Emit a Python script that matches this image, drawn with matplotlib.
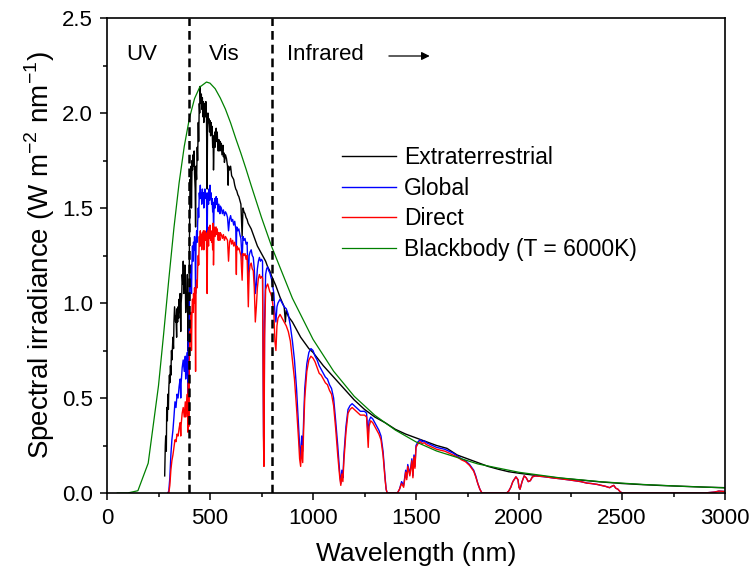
import matplotlib
matplotlib.use("Agg")
import matplotlib.pyplot as plt
from matplotlib.ticker import MultipleLocator
import numpy as np

plt.rcParams['font.family'] = ['Liberation Sans', 'DejaVu Sans']
plt.rcParams['mathtext.fontset'] = 'custom'
plt.rcParams['mathtext.rm'] = 'Liberation Sans'

# ---------------- data ----------------
blackbody_wl = [50, 100, 150, 200, 250, 275, 300, 325, 350, 375, 400, 425, 450, 483, 500, 525,
                550, 575, 600, 625, 650, 675, 700, 750, 800, 900, 1000, 1100, 1200, 1300, 1400,
                1500, 1600, 1800, 2000, 2200, 2400, 2600, 2800, 3000]
blackbody_val = [0.0, 0.0, 0.012, 0.157, 0.565, 0.838, 1.124, 1.396, 1.632, 1.824, 1.972, 2.076,
                 2.136, 2.163, 2.157, 2.128, 2.079, 2.02, 1.948, 1.866, 1.788, 1.705, 1.618, 1.450,
                 1.295, 1.025, 0.809, 0.641, 0.509, 0.409, 0.331, 0.269, 0.221, 0.153, 0.109,
                 0.0795, 0.059, 0.045, 0.035, 0.027]

extraterrestrial = [
    (280, 0.09), (283, 0.25), (285, 0.30), (288, 0.22), (290, 0.45), (293, 0.38), (295, 0.52),
    (298, 0.44), (300, 0.55), (303, 0.62), (305, 0.58), (308, 0.67), (310, 0.62), (313, 0.75),
    (315, 0.70), (318, 0.78), (320, 0.82), (323, 0.76), (325, 0.90), (328, 0.98), (330, 0.95),
    (333, 0.90), (335, 0.93), (338, 0.82), (340, 0.97), (343, 0.90), (345, 0.98), (348, 0.92),
    (350, 1.02), (353, 0.95), (355, 1.05), (358, 0.85), (360, 1.00), (363, 1.05), (365, 1.15),
    (368, 1.10), (370, 1.22), (373, 1.05), (375, 1.12), (378, 1.20), (380, 1.15), (382, 0.95),
    (385, 1.05), (388, 1.00), (390, 1.15), (393, 0.75), (395, 1.05), (397, 0.80), (400, 1.30),
    (403, 1.65), (405, 1.60), (408, 1.72), (410, 1.50), (413, 1.75), (415, 1.70), (418, 1.78),
    (420, 1.72), (423, 1.80), (425, 1.68), (428, 1.60), (430, 1.40), (432, 1.72), (435, 1.65),
    (438, 1.82), (440, 1.75), (443, 1.95), (445, 1.85), (448, 2.05), (450, 2.00), (452, 2.14),
    (455, 2.05), (458, 2.10), (460, 2.02), (463, 2.08), (465, 1.98), (468, 2.06), (470, 1.95),
    (473, 2.03), (475, 2.05), (478, 1.98), (480, 2.06), (483, 1.97), (486, 1.60), (488, 1.92),
    (490, 2.00), (493, 1.95), (495, 1.97), (498, 1.90), (500, 1.96), (503, 1.88), (505, 1.95),
    (508, 1.90), (510, 1.93), (513, 1.82), (515, 1.88), (517, 1.70), (520, 1.85), (523, 1.90),
    (525, 1.82), (528, 1.88), (530, 1.92), (533, 1.85), (535, 1.90), (538, 1.83), (540, 1.80),
    (543, 1.86), (545, 1.84), (548, 1.80), (550, 1.85), (553, 1.82), (555, 1.84), (558, 1.78),
    (560, 1.80), (563, 1.83), (565, 1.77), (568, 1.79), (570, 1.74), (575, 1.78), (580, 1.76),
    (585, 1.72), (588, 1.62), (590, 1.72), (595, 1.70), (600, 1.72), (605, 1.67), (610, 1.66),
    (615, 1.65), (620, 1.62), (625, 1.60), (630, 1.59), (635, 1.57), (640, 1.56), (645, 1.54),
    (650, 1.52), (656, 1.35), (660, 1.50), (665, 1.48), (670, 1.47), (675, 1.45), (680, 1.44),
    (685, 1.42), (690, 1.41), (695, 1.40), (700, 1.39), (710, 1.36), (720, 1.33), (730, 1.30),
    (740, 1.28), (750, 1.26), (760, 1.24), (770, 1.22), (780, 1.19), (790, 1.17), (800, 1.14),
    (820, 1.09), (840, 1.03), (860, 0.98), (866, 0.90), (870, 0.96), (880, 0.93), (900, 0.90),
    (920, 0.86), (940, 0.82), (960, 0.79), (980, 0.76), (1000, 0.74), (1050, 0.67),
    (1100, 0.61), (1150, 0.55), (1200, 0.49), (1250, 0.44), (1300, 0.40), (1350, 0.37),
    (1400, 0.335), (1450, 0.31), (1500, 0.29), (1550, 0.27), (1600, 0.25), (1650, 0.235),
    (1700, 0.20), (1750, 0.18), (1800, 0.16), (1850, 0.14), (1900, 0.125), (1950, 0.112),
    (2000, 0.104), (2100, 0.09), (2200, 0.078), (2300, 0.068), (2400, 0.058), (2500, 0.05),
    (2600, 0.044), (2700, 0.039), (2800, 0.035), (2900, 0.031), (3000, 0.028)]

global_tilt = [
    (295, 0.0), (300, 0.01), (305, 0.08), (310, 0.20), (315, 0.28), (320, 0.33), (325, 0.40),
    (330, 0.48), (335, 0.45), (340, 0.52), (345, 0.50), (350, 0.56), (355, 0.60), (358, 0.50),
    (360, 0.58), (365, 0.66), (370, 0.70), (375, 0.64), (380, 0.72), (382, 0.60), (385, 0.66),
    (390, 0.74), (393, 0.50), (395, 0.80), (397, 0.55), (400, 1.00), (403, 1.12), (405, 1.08),
    (408, 1.20), (410, 1.05), (413, 1.25), (415, 1.30), (418, 1.22), (420, 1.32), (423, 1.28),
    (425, 1.35), (428, 1.25), (430, 1.05), (432, 1.30), (435, 1.38), (438, 1.32), (440, 1.42),
    (443, 1.50), (445, 1.45), (448, 1.58), (450, 1.55), (453, 1.62), (455, 1.55), (458, 1.58),
    (460, 1.52), (463, 1.60), (465, 1.55), (468, 1.58), (470, 1.50), (473, 1.57), (475, 1.60),
    (478, 1.55), (480, 1.58), (483, 1.55), (486, 1.30), (488, 1.53), (490, 1.58), (493, 1.52),
    (495, 1.60), (498, 1.54), (500, 1.62), (503, 1.55), (505, 1.58), (508, 1.52), (510, 1.55),
    (513, 1.48), (515, 1.53), (517, 1.40), (520, 1.50), (523, 1.55), (525, 1.50), (528, 1.54),
    (530, 1.56), (533, 1.52), (535, 1.55), (538, 1.50), (540, 1.48), (543, 1.52), (545, 1.50),
    (548, 1.47), (550, 1.51), (555, 1.50), (560, 1.47), (565, 1.49), (570, 1.46), (575, 1.48),
    (580, 1.47), (585, 1.45), (590, 1.38), (595, 1.44), (600, 1.46), (605, 1.43), (610, 1.44),
    (615, 1.41), (620, 1.43), (625, 1.39), (628, 1.30), (630, 1.40), (635, 1.38), (640, 1.39),
    (645, 1.36), (650, 1.34), (656, 1.22), (660, 1.35), (665, 1.33), (670, 1.34), (675, 1.31),
    (680, 1.32), (686, 1.10), (690, 1.25), (695, 1.27), (700, 1.28), (705, 1.25), (710, 1.24),
    (715, 1.18), (720, 1.05), (725, 1.10), (730, 1.18), (735, 1.22), (740, 1.24), (745, 1.22),
    (750, 1.23), (755, 1.22), (760, 0.30), (762, 0.20), (765, 0.90), (770, 1.15), (775, 1.18),
    (780, 1.19), (785, 1.17), (790, 1.16), (795, 1.14), (800, 1.12), (810, 1.05), (815, 0.95),
    (820, 0.90), (825, 0.98), (830, 1.00), (840, 1.02), (850, 1.00), (860, 0.98), (870, 0.97),
    (880, 0.94), (890, 0.88), (900, 0.80), (910, 0.70), (920, 0.55), (930, 0.35), (935, 0.25),
    (940, 0.18), (945, 0.30), (950, 0.22), (955, 0.40), (960, 0.55), (970, 0.68), (980, 0.74),
    (990, 0.76), (1000, 0.75), (1010, 0.72), (1020, 0.70), (1030, 0.67), (1040, 0.65),
    (1050, 0.63), (1060, 0.61), (1070, 0.60), (1080, 0.57), (1090, 0.55), (1100, 0.50),
    (1110, 0.38), (1120, 0.25), (1130, 0.10), (1135, 0.05), (1140, 0.12), (1145, 0.08),
    (1150, 0.20), (1160, 0.35), (1170, 0.44), (1180, 0.46), (1190, 0.47), (1200, 0.46),
    (1210, 0.45), (1220, 0.44), (1230, 0.43), (1240, 0.43), (1250, 0.43), (1260, 0.42),
    (1268, 0.30), (1272, 0.38), (1280, 0.40), (1290, 0.39), (1300, 0.37), (1310, 0.35),
    (1320, 0.33), (1330, 0.30), (1340, 0.22), (1350, 0.08), (1355, 0.02), (1360, 0.0),
    (1410, 0.0), (1420, 0.02), (1430, 0.06), (1440, 0.04), (1450, 0.12), (1455, 0.08),
    (1460, 0.15), (1470, 0.10), (1480, 0.18), (1485, 0.09), (1490, 0.20), (1495, 0.14),
    (1500, 0.25), (1510, 0.27), (1520, 0.28), (1530, 0.27), (1540, 0.275), (1550, 0.265),
    (1560, 0.26), (1570, 0.255), (1580, 0.25), (1590, 0.245), (1600, 0.24), (1620, 0.235),
    (1640, 0.23), (1660, 0.22), (1680, 0.21), (1700, 0.195), (1720, 0.18), (1740, 0.17),
    (1760, 0.15), (1780, 0.12), (1790, 0.09), (1800, 0.05), (1810, 0.02), (1820, 0.0),
    (1940, 0.0), (1950, 0.01), (1960, 0.03), (1970, 0.06), (1985, 0.085), (1995, 0.07),
    (2000, 0.03), (2005, 0.02), (2015, 0.06), (2025, 0.09), (2035, 0.08), (2045, 0.06),
    (2055, 0.065), (2065, 0.085), (2080, 0.09), (2100, 0.088), (2130, 0.085), (2160, 0.08),
    (2200, 0.075), (2250, 0.068), (2300, 0.06), (2330, 0.052), (2350, 0.05), (2380, 0.045),
    (2400, 0.04), (2420, 0.035), (2440, 0.028), (2450, 0.035), (2460, 0.04), (2470, 0.025),
    (2480, 0.02), (2490, 0.008), (2500, 0.0), (2900, 0.0), (2950, 0.005), (2970, 0.01),
    (3000, 0.008)]

direct = [
    (295, 0.0), (300, 0.0), (305, 0.04), (310, 0.12), (315, 0.17), (320, 0.20), (325, 0.24),
    (330, 0.28), (335, 0.27), (340, 0.31), (345, 0.30), (350, 0.34), (355, 0.37), (358, 0.30),
    (360, 0.36), (365, 0.42), (370, 0.45), (375, 0.40), (380, 0.48), (382, 0.40), (385, 0.44),
    (390, 0.52), (393, 0.32), (395, 0.58), (397, 0.35), (400, 0.72), (403, 0.85), (405, 0.80),
    (408, 0.95), (410, 0.75), (413, 0.98), (415, 1.02), (418, 0.95), (420, 1.05), (423, 1.00),
    (425, 1.08), (428, 0.95), (430, 0.64), (432, 1.05), (435, 1.12), (438, 1.08), (440, 1.18),
    (443, 1.25), (445, 1.20), (448, 1.35), (450, 1.30), (453, 1.38), (455, 1.30), (458, 1.36),
    (460, 1.28), (463, 1.37), (465, 1.32), (468, 1.38), (470, 1.28), (473, 1.36), (475, 1.38),
    (478, 1.33), (480, 1.37), (483, 1.32), (486, 1.05), (488, 1.32), (490, 1.38), (493, 1.30),
    (495, 1.40), (498, 1.34), (500, 1.41), (503, 1.33), (505, 1.38), (508, 1.32), (510, 1.36),
    (513, 1.28), (515, 1.42), (517, 1.20), (520, 1.38), (523, 1.40), (525, 1.35), (528, 1.38),
    (530, 1.40), (533, 1.36), (535, 1.39), (538, 1.35), (540, 1.33), (543, 1.37), (545, 1.35),
    (548, 1.33), (550, 1.37), (555, 1.36), (560, 1.34), (565, 1.36), (570, 1.33), (575, 1.35),
    (580, 1.34), (585, 1.33), (590, 1.22), (595, 1.32), (600, 1.34), (605, 1.31), (610, 1.33),
    (615, 1.30), (620, 1.32), (625, 1.29), (628, 1.15), (630, 1.30), (635, 1.28), (640, 1.29),
    (645, 1.27), (650, 1.25), (656, 1.12), (660, 1.26), (665, 1.25), (670, 1.26), (675, 1.23),
    (680, 1.25), (686, 0.98), (690, 1.16), (695, 1.20), (700, 1.21), (705, 1.18), (710, 1.17),
    (715, 1.08), (720, 0.90), (725, 0.98), (730, 1.08), (735, 1.13), (740, 1.15), (745, 1.13),
    (750, 1.14), (755, 1.13), (760, 0.25), (762, 0.14), (765, 0.82), (770, 1.07), (775, 1.09),
    (780, 1.10), (785, 1.08), (790, 1.06), (795, 1.05), (800, 1.03), (810, 0.95), (815, 0.80),
    (820, 0.75), (825, 0.88), (830, 0.92), (840, 0.94), (850, 0.92), (860, 0.90), (870, 0.88),
    (880, 0.85), (890, 0.80), (900, 0.70), (910, 0.60), (920, 0.45), (930, 0.28), (935, 0.18),
    (940, 0.14), (945, 0.25), (950, 0.16), (955, 0.35), (960, 0.50), (970, 0.64), (980, 0.70),
    (990, 0.72), (1000, 0.71), (1010, 0.69), (1020, 0.66), (1030, 0.63), (1040, 0.62),
    (1050, 0.60), (1060, 0.58), (1070, 0.57), (1080, 0.54), (1090, 0.52), (1100, 0.46),
    (1110, 0.34), (1120, 0.20), (1130, 0.08), (1135, 0.04), (1140, 0.10), (1145, 0.06),
    (1150, 0.17), (1160, 0.32), (1170, 0.42), (1180, 0.44), (1190, 0.45), (1200, 0.44),
    (1210, 0.43), (1220, 0.42), (1230, 0.41), (1240, 0.41), (1250, 0.41), (1260, 0.40),
    (1268, 0.24), (1272, 0.35), (1280, 0.38), (1290, 0.37), (1300, 0.35), (1310, 0.33),
    (1320, 0.31), (1330, 0.28), (1340, 0.20), (1350, 0.07), (1355, 0.02), (1360, 0.0),
    (1410, 0.0), (1420, 0.02), (1430, 0.05), (1440, 0.03), (1450, 0.11), (1455, 0.07),
    (1460, 0.14), (1470, 0.09), (1480, 0.17), (1485, 0.08), (1490, 0.19), (1495, 0.13),
    (1500, 0.24), (1510, 0.26), (1520, 0.27), (1530, 0.26), (1540, 0.265), (1550, 0.255),
    (1560, 0.25), (1570, 0.245), (1580, 0.24), (1590, 0.235), (1600, 0.23), (1620, 0.225),
    (1640, 0.22), (1660, 0.21), (1680, 0.20), (1700, 0.19), (1720, 0.175), (1740, 0.165),
    (1760, 0.145), (1780, 0.115), (1790, 0.085), (1800, 0.05), (1810, 0.02), (1820, 0.0),
    (1940, 0.0), (1950, 0.01), (1960, 0.03), (1970, 0.06), (1985, 0.085), (1995, 0.07),
    (2000, 0.03), (2005, 0.02), (2015, 0.06), (2025, 0.09), (2035, 0.08), (2045, 0.06),
    (2055, 0.065), (2065, 0.085), (2080, 0.09), (2100, 0.088), (2130, 0.085), (2160, 0.08),
    (2200, 0.075), (2250, 0.068), (2300, 0.06), (2330, 0.052), (2350, 0.05), (2380, 0.045),
    (2400, 0.04), (2420, 0.035), (2440, 0.028), (2450, 0.035), (2460, 0.04), (2470, 0.025),
    (2480, 0.02), (2490, 0.008), (2500, 0.0), (2900, 0.0), (2950, 0.005), (2970, 0.01),
    (3000, 0.008)]

region_bounds = [400, 800]
region_labels = [("UV", 170), ("Vis", 570), ("Infrared", 875)]
series_labels = ["Extraterrestrial", "Global", "Direct", "Blackbody (T = 6000K)"]

# ---------------- figure ----------------
fig = plt.figure(figsize=(7.52, 5.74), dpi=100)
ax = fig.add_axes([107/752, 1-493/574, 618/752, 475/574])

ext = np.array(extraterrestrial)
glo = np.array(global_tilt)
dirn = np.array(direct)

l_ext, = ax.plot(ext[:, 0], ext[:, 1], color='black', lw=1.0, label=series_labels[0])
l_glo, = ax.plot(glo[:, 0], glo[:, 1], color='#0000ff', lw=1.0, label=series_labels[1])
l_dir, = ax.plot(dirn[:, 0], dirn[:, 1], color='#ff0000', lw=1.0, label=series_labels[2])
l_bb, = ax.plot(blackbody_wl, blackbody_val, color='#008000', lw=0.9, label=series_labels[3])

for xb in region_bounds:
    ax.axvline(xb, color='black', lw=1.8, dashes=(3.5, 2.0), zorder=5)

for txt, xw in region_labels:
    ax.text(xw, 2.31, txt, fontsize=16, ha='center' if txt != "Infrared" else 'left',
            va='center')
ax.annotate("", xy=(1580, 2.30), xytext=(1355, 2.30),
            arrowprops=dict(arrowstyle='-|>', color='black', lw=0.9,
                            mutation_scale=12))

ax.set_xlim(0, 3000)
ax.set_ylim(0, 2.5)
ax.xaxis.set_major_locator(MultipleLocator(500))
ax.xaxis.set_minor_locator(MultipleLocator(250))
ax.yaxis.set_major_locator(MultipleLocator(0.5))
ax.yaxis.set_minor_locator(MultipleLocator(0.25))
ax.yaxis.set_major_formatter(matplotlib.ticker.FormatStrFormatter('%.1f'))
ax.tick_params(which='major', direction='out', length=5, width=1.1, labelsize=16,
               top=False, right=False)
ax.tick_params(which='minor', direction='out', length=3, width=1.1, top=False, right=False)
ax.tick_params(axis='x', pad=6)
ax.tick_params(axis='y', pad=5)
for sp in ax.spines.values():
    sp.set_linewidth(1.2)

ax.set_xlabel("Wavelength (nm)", fontsize=19, labelpad=9)
ax.set_ylabel(r"Spectral irradiance (W m$^{\mathregular{-2}}$ nm$^{\mathregular{-1}}$)",
              fontsize=20, labelpad=4)

leg = ax.legend(handles=[l_ext, l_glo, l_dir, l_bb], loc='upper left',
                bbox_to_anchor=((342-107)/618, (493-146)/475), frameon=False,
                fontsize=16.5, handlelength=2.35, handletextpad=0.35, labelspacing=0.33,
                borderpad=0, borderaxespad=0)

fig.savefig("out.png", dpi=100)
